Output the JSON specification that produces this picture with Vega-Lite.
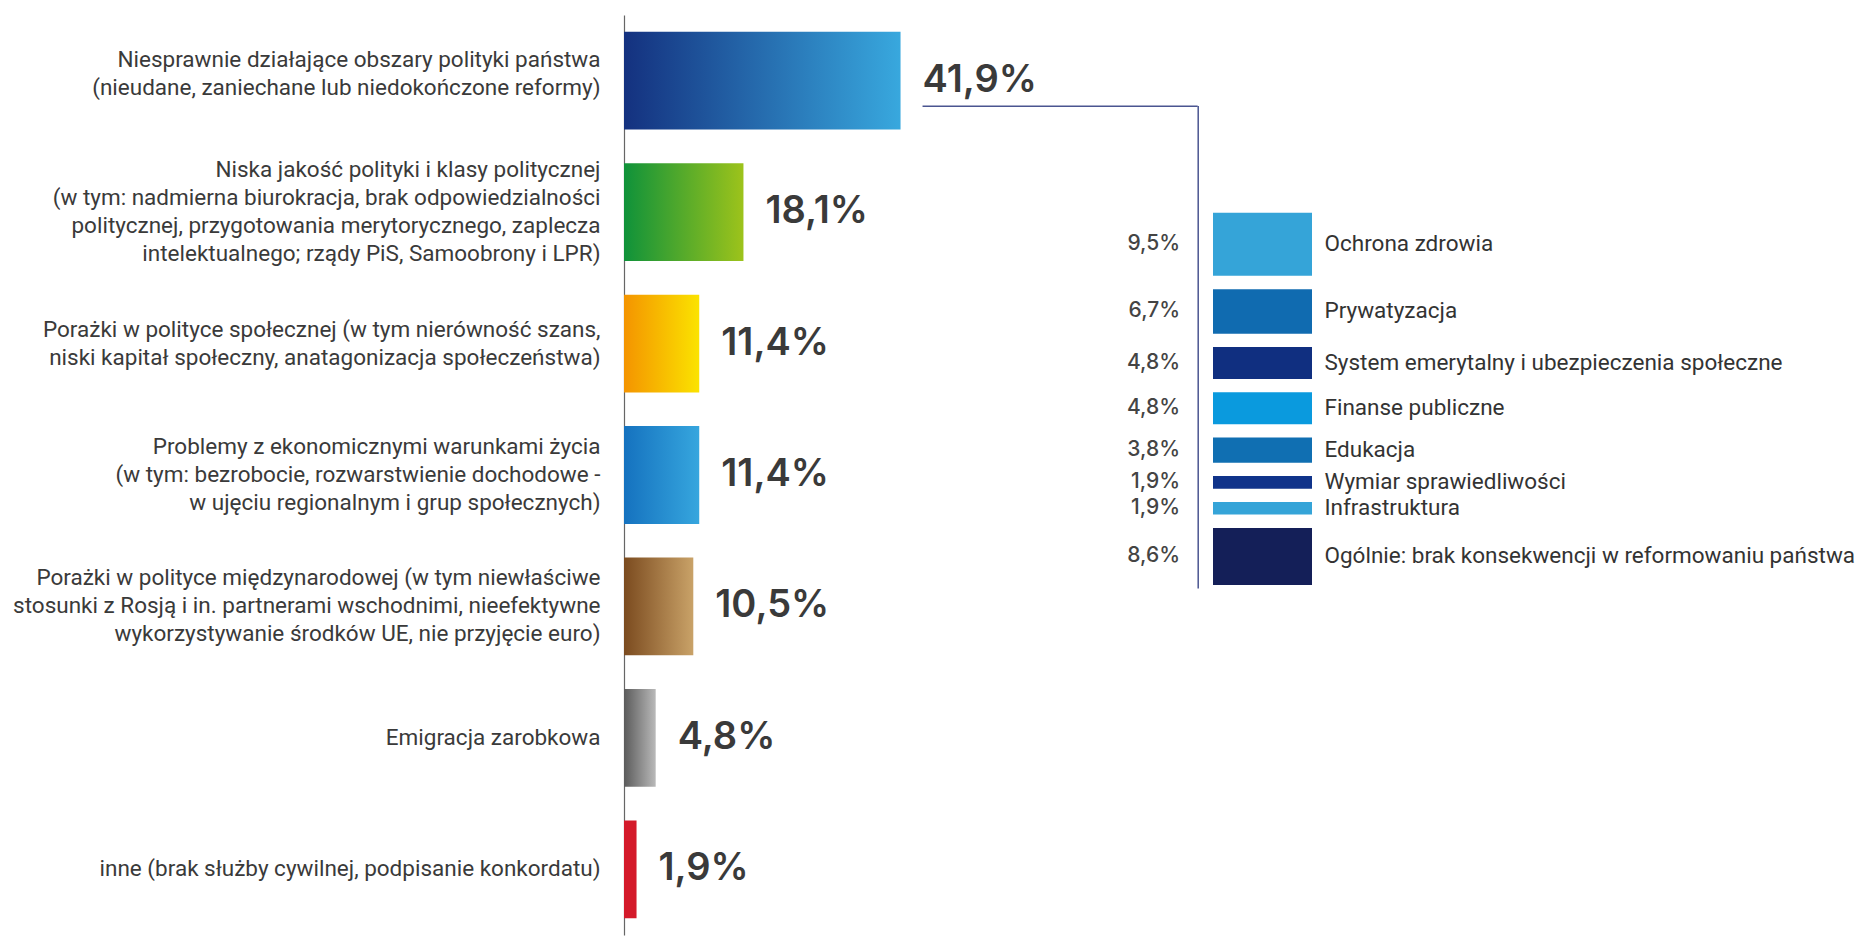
{
  "$schema": "https://vega.github.io/schema/vega-lite/v6.json",
  "width": 1241,
  "height": 920,
  "autosize": {"type": "none"},
  "padding": {"left": 624, "top": 15, "right": 0, "bottom": 3},
  "background": "white",
  "config": {
    "view": {"stroke": null},
    "locale": {"number": {"decimal": ",", "thousands": " ", "grouping": [3], "currency": ["", "%"]}}
  },
  "datasets": {
    "main": [
      {"order": 1, "cat": "Niesprawnie działające obszary polityki państwa\n(nieudane, zaniechane lub niedokończone reformy)", "value": 41.9},
      {"order": 2, "cat": "Niska jakość polityki i klasy politycznej\n(w tym: nadmierna biurokracja, brak odpowiedzialności\npolitycznej, przygotowania merytorycznego, zaplecza\nintelektualnego; rządy PiS, Samoobrony i LPR)", "value": 18.1},
      {"order": 3, "cat": "Porażki w polityce społecznej (w tym nierówność szans,\nniski kapitał społeczny, anatagonizacja społeczeństwa)", "value": 11.4},
      {"order": 4, "cat": "Problemy z ekonomicznymi warunkami życia\n(w tym: bezrobocie, rozwarstwienie dochodowe -\nw ujęciu regionalnym i grup społecznych)", "value": 11.4},
      {"order": 5, "cat": "Porażki w polityce międzynarodowej (w tym niewłaściwe\nstosunki z Rosją i in. partnerami wschodnimi, nieefektywne\nwykorzystywanie środków UE, nie przyjęcie euro)", "value": 10.5},
      {"order": 6, "cat": "Emigracja zarobkowa", "value": 4.8},
      {"order": 7, "cat": "inne (brak służby cywilnej, podpisanie konkordatu)", "value": 1.9}
    ],
    "sub": [
      {"order": 1, "name": "Ochrona zdrowia", "value": 9.5},
      {"order": 2, "name": "Prywatyzacja", "value": 6.7},
      {"order": 3, "name": "System emerytalny i ubezpieczenia społeczne", "value": 4.8},
      {"order": 4, "name": "Finanse publiczne", "value": 4.8},
      {"order": 5, "name": "Edukacja", "value": 3.8},
      {"order": 6, "name": "Wymiar sprawiedliwości", "value": 1.9},
      {"order": 7, "name": "Infrastruktura", "value": 1.9},
      {"order": 8, "name": "Ogólnie: brak konsekwencji w reformowaniu państwa", "value": 8.6}
    ]
  },
  "layer": [
    {
      "data": {"name": "main"},
      "encoding": {
        "y": {
          "field": "cat", "type": "nominal", "sort": {"field": "order"},
          "scale": {"paddingInner": 0.256, "paddingOuter": 0.128},
          "axis": {
            "title": null, "ticks": false, "grid": false,
            "domainColor": "#666666", "domainWidth": 1.2,
            "labelFont": "Roboto", "labelFontSize": 22.5, "labelColor": "#3a3a3a",
            "labelPadding": 24, "labelLimit": 800, "labelLineHeight": 28,
            "labelAlign": "right", "labelBaseline": "middle",
            "labelOffset": {
              "condition": [
                {"test": "indexof(datum.label, 'Niesprawnie') == 0", "value": -21},
                {"test": "length(split(datum.label, '\\n')) == 4", "value": -42},
                {"test": "length(split(datum.label, '\\n')) == 3", "value": -28},
                {"test": "length(split(datum.label, '\\n')) == 2", "value": -14}
              ],
              "value": 0
            },
            "labelExpr": "split(datum.label, '\\n')"
          }
        },
        "x": {"field": "value", "type": "quantitative", "scale": {"domain": [0, 188.03], "nice": false}, "axis": null}
      },
      "layer": [
        {
          "mark": {"type": "bar"},
          "encoding": {
            "color": {
              "condition": [
                {"test": "datum.order == 1", "value": {"gradient": "linear", "stops": [{"offset": 0, "color": "#14317f"}, {"offset": 1, "color": "#38a8de"}]}},
                {"test": "datum.order == 2", "value": {"gradient": "linear", "stops": [{"offset": 0, "color": "#0f923a"}, {"offset": 1, "color": "#9dc31b"}]}},
                {"test": "datum.order == 3", "value": {"gradient": "linear", "stops": [{"offset": 0, "color": "#f49400"}, {"offset": 1, "color": "#fbe300"}]}},
                {"test": "datum.order == 4", "value": {"gradient": "linear", "stops": [{"offset": 0, "color": "#1572bf"}, {"offset": 1, "color": "#36a6de"}]}},
                {"test": "datum.order == 5", "value": {"gradient": "linear", "stops": [{"offset": 0, "color": "#7b4b1f"}, {"offset": 1, "color": "#c9a268"}]}},
                {"test": "datum.order == 6", "value": {"gradient": "linear", "stops": [{"offset": 0, "color": "#5b5b5b"}, {"offset": 1, "color": "#b9b9b9"}]}}
              ],
              "value": "#d41a2a"
            }
          }
        },
        {
          "mark": {"type": "text", "align": "left", "baseline": "middle", "dx": 22, "font": "Inter", "fontSize": 38, "fontWeight": 600, "color": "#3a3a3a"},
          "encoding": {
            "text": {"field": "value", "type": "quantitative", "format": "$.1f"}
          }
        },
        {
          "mark": {"type": "rule", "xOffset": 22, "yOffset": 25.5, "color": "#4a5590", "strokeWidth": 1.5},
          "encoding": {
            "x2": {"datum": 86.92},
            "strokeOpacity": {"condition": {"test": "datum.order == 1", "value": 1}, "value": 0}
          }
        }
      ]
    },
    {
      "data": {"name": "sub"},
      "encoding": {
        "y": {
          "field": "value", "type": "quantitative", "stack": "zero",
          "scale": {"domain": [-16.12, 56.44], "range": [90.5, 573], "nice": false, "zero": false},
          "axis": {"orient": "right", "offset": -667.3, "labels": false, "ticks": false, "grid": false, "title": null, "domainColor": "#4a5590", "domainWidth": 1.5}
        },
        "order": {"field": "order", "type": "quantitative"}
      },
      "layer": [
        {
          "mark": {"type": "bar", "width": 99, "xOffset": 18, "yOffset": {"expr": "(datum.order - 1) * 13.3"}, "y2Offset": {"expr": "(datum.order - 1) * 13.3"}},
          "encoding": {
            "color": {
              "field": "name", "type": "nominal", "legend": null,
              "scale": {
                "domain": ["Ochrona zdrowia", "Prywatyzacja", "System emerytalny i ubezpieczenia społeczne", "Finanse publiczne", "Edukacja", "Wymiar sprawiedliwości", "Infrastruktura", "Ogólnie: brak konsekwencji w reformowaniu państwa"],
                "range": ["#35a4d8", "#106bb0", "#102f80", "#0a9ade", "#106fb2", "#10338a", "#35a4d8", "#141f58"]
              }
            }
          }
        },
        {
          "mark": {"type": "text", "align": "right", "baseline": "middle", "dx": -64.5, "font": "Inter", "fontSize": 21, "fontWeight": 500, "color": "#444444", "yOffset": {"expr": "(datum.order - 1) * 13.3"}},
          "encoding": {
            "y": {"field": "value", "type": "quantitative", "stack": "zero", "bandPosition": 0.5},
            "detail": {"field": "name", "type": "nominal"},
            "text": {"field": "value", "type": "quantitative", "format": "$.1f"}
          }
        },
        {
          "mark": {"type": "text", "align": "left", "baseline": "middle", "dx": 80, "font": "Roboto", "fontSize": 22.5, "color": "#333333", "yOffset": {"expr": "(datum.order - 1) * 13.3"}},
          "encoding": {
            "y": {"field": "value", "type": "quantitative", "stack": "zero", "bandPosition": 0.5},
            "detail": {"field": "name", "type": "nominal"},
            "text": {"field": "name", "type": "nominal"}
          }
        }
      ]
    }
  ],
  "resolve": {"scale": {"y": "independent"}, "axis": {"y": "independent"}}
}
